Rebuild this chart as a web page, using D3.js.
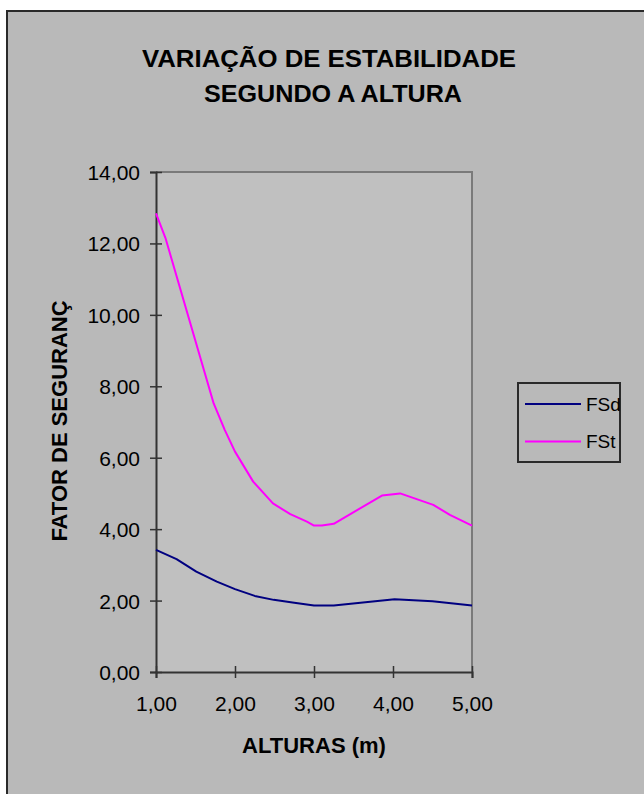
<!DOCTYPE html>
<html>
<head>
<meta charset="utf-8">
<script src="https://cdn.jsdelivr.net/npm/d3@7"></script>
<style>
  html, body { margin: 0; padding: 0; background: #ffffff; }
  svg { display: block; }
  text { font-family: "Liberation Sans", Arial, sans-serif; fill: #000; }
</style>
</head>
<body>
<svg id="chart" width="644" height="794"></svg>
<script>
// Alturas (m) e fatores de segurança
const fsdAlturas = [1.00, 1.26, 1.51, 1.77, 2.00, 2.25, 2.49, 2.75, 3.00, 3.25, 4.02, 4.50, 5.00];
const fsdValores = [3.42, 3.16, 2.81, 2.53, 2.32, 2.13, 2.02, 1.94, 1.86, 1.86, 2.04, 1.98, 1.86];

const fstAlturas = [1.00, 1.12, 1.73, 1.87, 2.00, 2.23, 2.48, 2.70, 2.91, 3.00, 3.10, 3.25, 3.86, 4.09, 4.51, 4.72, 5.00];
const fstValores = [12.84, 12.15, 7.52, 6.78, 6.17, 5.33, 4.72, 4.42, 4.21, 4.10, 4.10, 4.15, 4.94, 5.00, 4.68, 4.40, 4.10];

const seriesNames = ["FSd", "FSt"];
const seriesColors = ["#000080", "#FF00FF"];

const yTicks = [0, 2, 4, 6, 8, 10, 12, 14];
const xTicks = [1, 2, 3, 4, 5];

const titleLines = ["VARIAÇÃO DE ESTABILIDADE", "SEGUNDO A ALTURA"];
const xTitle = "ALTURAS (m)";
const yTitle = "FATOR DE SEGURANÇ";

const svg = d3.select("#chart");

// chart area frame
svg.append("rect")
  .attr("x", 7).attr("y", 11)
  .attr("width", 660).attr("height", 800)
  .attr("fill", "#B9B9B9")
  .attr("stroke", "#2a2a2a").attr("stroke-width", 2);

const plot = { left: 156, top: 172, right: 472, bottom: 672 };

const x = d3.scaleLinear().domain([1, 5]).range([plot.left, plot.right]);
const y = d3.scaleLinear().domain([0, 14]).range([plot.bottom, plot.top]);

const fmt = d3.formatLocale({ decimal: ",", thousands: ".", grouping: [3], currency: ["", ""] }).format(".2f");

// plot area
svg.append("rect")
  .attr("x", plot.left).attr("y", plot.top)
  .attr("width", plot.right - plot.left).attr("height", plot.bottom - plot.top)
  .attr("fill", "#C0C0C0");
svg.append("path")
  .attr("d", `M${plot.left},${plot.top}H${plot.right}V${plot.bottom}`)
  .attr("fill", "none").attr("stroke", "#7a7a7a").attr("stroke-width", 2);

// y axis
const yAxis = svg.append("g")
  .attr("transform", `translate(${plot.left},0)`)
  .call(d3.axisLeft(y).tickValues(yTicks).tickSize(6).tickPadding(0).tickFormat(fmt));
yAxis.select(".domain").attr("stroke", "#333").attr("stroke-width", 2);
yAxis.selectAll(".tick line").attr("x1", 6).attr("x2", -6).attr("stroke", "#333").attr("stroke-width", 1.5);
yAxis.selectAll(".tick text")
  .attr("x", -16).attr("dy", "0.36em")
  .attr("font-size", 21);

// x axis
const xAxis = svg.append("g")
  .attr("transform", `translate(0,${plot.bottom})`)
  .call(d3.axisBottom(x).tickValues(xTicks).tickSize(6).tickPadding(0).tickFormat(fmt));
xAxis.select(".domain").attr("stroke", "#333").attr("stroke-width", 2);
xAxis.selectAll(".tick line").attr("y1", -6).attr("y2", 6).attr("stroke", "#333").attr("stroke-width", 1.5);
xAxis.selectAll(".tick text")
  .attr("y", 39).attr("dy", null)
  .attr("font-size", 21);

// series lines
const series = [
  { name: seriesNames[0], color: seriesColors[0], xs: fsdAlturas, ys: fsdValores },
  { name: seriesNames[1], color: seriesColors[1], xs: fstAlturas, ys: fstValores }
];
const line = d3.line().x(d => x(d[0])).y(d => y(d[1]));
svg.append("g").selectAll("path")
  .data(series)
  .join("path")
  .attr("d", s => line(s.xs.map((v, i) => [v, s.ys[i]])))
  .attr("fill", "none")
  .attr("stroke", s => s.color)
  .attr("stroke-width", 2)
  .attr("stroke-linejoin", "round");

// title
svg.append("g").selectAll("text")
  .data(titleLines)
  .join("text")
  .attr("x", (d, i) => i === 0 ? 329 : 333)
  .attr("y", (d, i) => 67 + i * 35)
  .attr("text-anchor", "middle")
  .attr("font-size", 24)
  .attr("font-weight", "bold")
  .attr("textLength", (d, i) => i === 0 ? 374 : 258)
  .attr("lengthAdjust", "spacingAndGlyphs")
  .text(d => d);

// axis titles
svg.append("text")
  .attr("x", 314).attr("y", 753)
  .attr("text-anchor", "middle")
  .attr("font-size", 22).attr("font-weight", "bold")
  .text(xTitle);

svg.append("text")
  .attr("transform", "translate(67,421) rotate(-90)")
  .attr("text-anchor", "middle")
  .attr("font-size", 22).attr("font-weight", "bold")
  .text(yTitle);

// legend
const legend = svg.append("g");
legend.append("rect")
  .attr("x", 518).attr("y", 383)
  .attr("width", 102).attr("height", 79)
  .attr("fill", "#B9B9B9")
  .attr("stroke", "#2a2a2a").attr("stroke-width", 2);
const rows = legend.selectAll("g.row")
  .data(series)
  .join("g")
  .attr("class", "row")
  .attr("transform", (d, i) => `translate(0,${404 + i * 37.5})`);
rows.append("line")
  .attr("x1", 525).attr("x2", 581)
  .attr("stroke", d => d.color).attr("stroke-width", 2);
rows.append("text")
  .attr("x", 586).attr("dy", "0.36em")
  .attr("font-size", 19)
  .text(d => d.name);
</script>
</body>
</html>
